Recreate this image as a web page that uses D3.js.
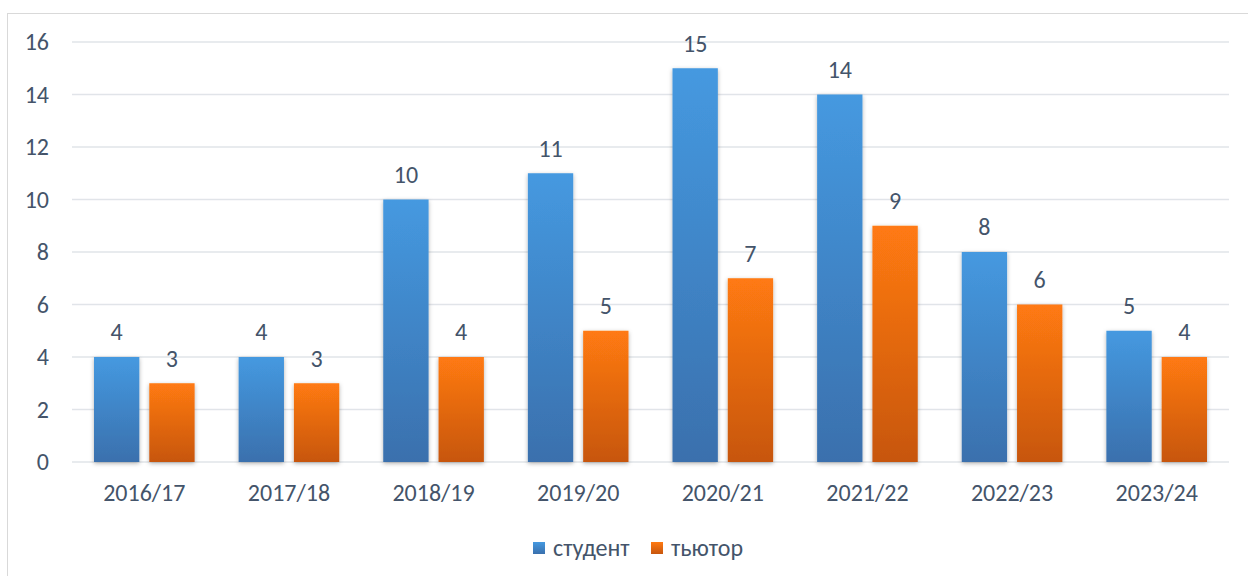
<!DOCTYPE html>
<html>
<head>
<meta charset="utf-8">
<script src="https://cdn.jsdelivr.net/npm/d3@7"></script>
<style>
  body { margin: 0; background: #fff; }
  svg { display: block; font-family: Carlito, "Open Sans", "Noto Sans", sans-serif; }
</style>
</head>
<body>
<svg id="chart" width="1248" height="576"></svg>
<script>
const years = ["2016/17", "2017/18", "2018/19", "2019/20", "2020/21", "2021/22", "2022/23", "2023/24"];
const seriesNames = ["студент", "тьютор"];
const studentVals = [4, 4, 10, 11, 15, 14, 8, 5];
const tutorVals = [3, 3, 4, 5, 7, 9, 6, 4];
const yTicks = [0, 2, 4, 6, 8, 10, 12, 14, 16];

const TEXT = "#44546a";
const GRID = "#e1e4e9";
const FS = 24;

const svg = d3.select("#chart");
const plot = { left: 72, right: 1229, top: 42, bottom: 462 };

// chart frame
svg.append("rect")
    .attr("x", 7.5).attr("y", 13.5)
    .attr("width", 1250).attr("height", 600)
    .attr("fill", "none").attr("stroke", "#d9d9d9");

const defs = svg.append("defs");
const grads = [["gStud", "#4599e0", "#3a70ad"], ["gTut", "#ff7a12", "#c7560e"]];
grads.forEach(g => {
    const lg = defs.append("linearGradient").attr("id", g[0])
        .attr("x1", 0).attr("y1", 0).attr("x2", 0).attr("y2", 1);
    lg.append("stop").attr("offset", "0%").attr("stop-color", g[1]);
    lg.append("stop").attr("offset", "100%").attr("stop-color", g[2]);
});
const shadow = defs.append("filter").attr("id", "shadow")
    .attr("x", "-20%").attr("y", "-10%").attr("width", "140%").attr("height", "120%");
shadow.append("feDropShadow").attr("dx", 0).attr("dy", 1.5)
    .attr("stdDeviation", 2).attr("flood-color", "#000").attr("flood-opacity", 0.3);

const x = d3.scaleBand().domain(years).range([plot.left, plot.right]).paddingInner(0).paddingOuter(0);
const inner = d3.scaleBand().domain(seriesNames).range([22, x.bandwidth() - 22]).paddingInner(0.18);
const y = d3.scaleLinear().domain([0, 16]).range([plot.bottom, plot.top]);

// grid
svg.append("g").selectAll("line").data(yTicks).join("line")
    .attr("x1", plot.left).attr("x2", plot.right)
    .attr("y1", d => y(d)).attr("y2", d => y(d))
    .attr("stroke", GRID).attr("stroke-width", 1.3);

// y axis labels
svg.append("g").selectAll("text").data(yTicks).join("text")
    .attr("x", 49).attr("y", d => y(d)).attr("dy", "0.35em")
    .attr("text-anchor", "end").attr("fill", TEXT).attr("font-size", FS)
    .text(d => d);

// x axis labels
svg.append("g").selectAll("text").data(years).join("text")
    .attr("x", d => x(d) + x.bandwidth() / 2).attr("y", 493).attr("dy", "0.35em")
    .attr("text-anchor", "middle").attr("fill", TEXT).attr("font-size", FS)
    .text(d => d);

const rows = [];
years.forEach((yr, i) => {
    rows.push({ year: yr, s: seriesNames[0], v: studentVals[i], fill: "url(#gStud)" });
    rows.push({ year: yr, s: seriesNames[1], v: tutorVals[i], fill: "url(#gTut)" });
});

svg.append("g").selectAll("rect").data(rows).join("rect")
    .attr("x", d => x(d.year) + inner(d.s))
    .attr("y", d => y(d.v))
    .attr("width", inner.bandwidth())
    .attr("height", d => y(0) - y(d.v))
    .attr("fill", d => d.fill)
    .attr("filter", "url(#shadow)");

svg.append("g").selectAll("text").data(rows).join("text")
    .attr("x", d => x(d.year) + inner(d.s) + inner.bandwidth() / 2)
    .attr("y", d => y(d.v) - 25).attr("dy", "0.35em")
    .attr("text-anchor", "middle").attr("fill", TEXT).attr("font-size", FS)
    .text(d => d.v);

// legend
const legend = [
    { name: seriesNames[0], fill: "url(#gStud)", x: 533 },
    { name: seriesNames[1], fill: "url(#gTut)", x: 651 }
];
const lg = svg.append("g").selectAll("g").data(legend).join("g")
    .attr("transform", d => "translate(" + d.x + ",548)");
lg.append("rect").attr("x", 0).attr("y", -6).attr("width", 12).attr("height", 12)
    .attr("fill", d => d.fill);
lg.append("text").attr("x", 20).attr("y", 0).attr("dy", "0.35em")
    .attr("fill", TEXT).attr("font-size", FS).text(d => d.name);
</script>
</body>
</html>
